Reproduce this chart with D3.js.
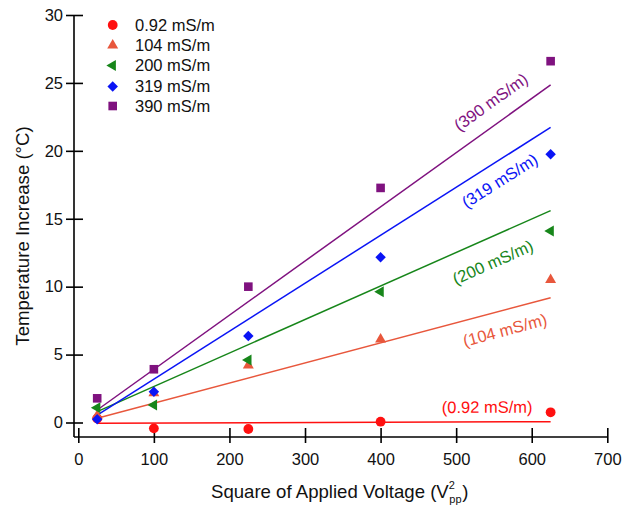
<!DOCTYPE html>
<html>
<head>
<meta charset="utf-8">
<script src="https://cdn.jsdelivr.net/npm/d3@7"></script>
<style>
  body { margin: 0; background: #fff; }
  text { font-family: "Liberation Sans", Arial, sans-serif; }
</style>
</head>
<body>
<script>
const largura = 631
const altura = 510

// dados
const voltagem = [25, 100, 225, 400, 625]
const series = ['0.92 mS/m', '104 mS/m', '200 mS/m', '319 mS/m', '390 mS/m']
const s092 = [0.3, -0.43, -0.48, 0.06, 0.75]
const s104 = [0.5, 2.17, 4.2, 6.13, 10.5]
const s200 = [1.08, 1.29, 4.6, 9.63, 14.1]
const s319 = [0.24, 2.27, 6.37, 12.16, 19.75]
const s390 = [1.78, 3.92, 10.0, 17.27, 26.6]
// retas ajustadas: valor em V=25 e em V=625
const ajusteX = [25, 625]
const ajuste092 = [-0.05, 0.06]
const ajuste104 = [0.31, 9.19]
const ajuste200 = [0.8, 15.6]
const ajuste319 = [0.55, 21.72]
const ajuste390 = [0.92, 24.85]
const rotulos = ['(0.92 mS/m)', '(104 mS/m)', '(200 mS/m)', '(319 mS/m)', '(390 mS/m)']
const rotuloX = [541, 564.5, 548.6, 557.6, 546]
const rotuloY = [1.14, 6.8, 11.8, 17.8, 23.6]

const ticksX = [0, 100, 200, 300, 400, 500, 600, 700]
const ticksY = [0, 5, 10, 15, 20, 25, 30]

const cores = ['#ff1010', '#e8573c', '#17861a', '#0a14f5', '#7f127f']
const simbolos = ['circle', 'triangle', 'left', 'diamond', 'square']

const valores = [s092, s104, s200, s319, s390]
const ajustes = [ajuste092, ajuste104, ajuste200, ajuste319, ajuste390]

const svg = d3.select('body').append('svg').attr('width', largura).attr('height', altura)

const x = d3.scaleLinear().domain([0, 700]).range([78.3, 607.3])
const y = d3.scaleLinear().domain([0, 30]).range([422.5, 15])
const eixoXy = 437
const eixoYx = 74

function desenhaSimbolo(g, tipo, cor) {
  if (tipo == 'circle') {
    g.append('circle').attr('r', 4.9).attr('fill', cor)
  } else if (tipo == 'square') {
    g.append('rect').attr('x', -4.3).attr('y', -4.3).attr('width', 8.6).attr('height', 8.6).attr('fill', cor)
  } else if (tipo == 'diamond') {
    g.append('rect').attr('x', -3.7).attr('y', -3.7).attr('width', 7.4).attr('height', 7.4)
      .attr('transform', 'rotate(45)').attr('fill', cor)
  } else if (tipo == 'triangle') {
    g.append('path').attr('d', d3.symbol(d3.symbolTriangle, 52)()).attr('fill', cor)
  } else if (tipo == 'left') {
    g.append('path').attr('d', d3.symbol(d3.symbolTriangle, 52)()).attr('transform', 'rotate(-90)').attr('fill', cor)
  }
}

// eixos
const eixoEsquerda = d3.axisLeft(y).tickValues(ticksY).tickSize(8).tickPadding(3)
const grupoY = svg.append('g').attr('transform', 'translate(' + eixoYx + ',0)').call(eixoEsquerda)
grupoY.select('.domain').remove()
grupoY.selectAll('.tick line').attr('x1', 9).attr('stroke-width', 1.6)
grupoY.selectAll('.tick text').style('font-size', '16.5px').attr('fill', '#111')
grupoY.append('line').attr('x1', 0).attr('x2', 0).attr('y1', y(30)).attr('y2', eixoXy)
  .attr('stroke', '#000').attr('stroke-width', 1.6)

const eixoBase = d3.axisBottom(x).tickValues(ticksX).tickSize(6).tickPadding(10)
const grupoX = svg.append('g').attr('transform', 'translate(0,' + eixoXy + ')').call(eixoBase)
grupoX.select('.domain').remove()
grupoX.selectAll('.tick line').attr('y1', -9).attr('stroke-width', 1.6)
grupoX.selectAll('.tick text').style('font-size', '16.5px').attr('fill', '#111')
grupoX.append('line').attr('x1', eixoYx).attr('x2', x(700)).attr('y1', 0).attr('y2', 0)
  .attr('stroke', '#000').attr('stroke-width', 1.6)

// titulos dos eixos
const tituloX = svg.append('text').attr('x', 211).attr('y', 498).style('font-size', '18.6px').attr('fill', '#111')
  .text('Square of Applied Voltage (V')
const fimX = 211 + tituloX.node().getComputedTextLength()
svg.append('text').attr('x', fimX).attr('y', 489).style('font-size', '11px').attr('fill', '#111').text('2')
svg.append('text').attr('x', fimX + 0.5).attr('y', 503).style('font-size', '11px').attr('fill', '#111').text('pp')
svg.append('text').attr('x', fimX + 13.5).attr('y', 498).style('font-size', '18.6px').attr('fill', '#111').text(')')

svg.append('text').attr('transform', 'translate(28.5,236) rotate(-90)').attr('text-anchor', 'middle')
  .style('font-size', '18.6px').attr('fill', '#111').text('Temperature Increase (°C)')

// retas ajustadas
const linha = d3.line().x(function (d) { return x(d[0]) }).y(function (d) { return y(d[1]) })
for (let i = 0; i < series.length; i++) {
  const pontos = ajusteX.map(function (v, j) { return [v, ajustes[i][j]] })
  svg.append('path').attr('d', linha(pontos)).attr('fill', 'none')
    .attr('stroke', cores[i]).attr('stroke-width', 1.5)
}

// pontos
for (let i = 0; i < series.length; i++) {
  voltagem.forEach(function (v, j) {
    const g = svg.append('g').attr('transform', 'translate(' + x(v) + ',' + y(valores[i][j]) + ')')
    desenhaSimbolo(g, simbolos[i], cores[i])
  })
}

// rotulos das retas
for (let i = 0; i < series.length; i++) {
  const a = ajustes[i]
  const ang = Math.atan2(y(a[1]) - y(a[0]), x(ajusteX[1]) - x(ajusteX[0])) * 180 / Math.PI
  svg.append('text')
    .attr('transform', 'translate(' + x(rotuloX[i]) + ',' + y(rotuloY[i]) + ') rotate(' + ang + ')')
    .attr('text-anchor', 'middle').attr('dy', '0.35em')
    .style('font-size', '16.5px').attr('fill', cores[i]).text(rotulos[i])
}

// legenda
const legendaY = [25, 45.3, 65.6, 86.4, 106]
series.forEach(function (s, i) {
  const g = svg.append('g').attr('transform', 'translate(112.7,' + legendaY[i] + ')')
  desenhaSimbolo(g, simbolos[i], cores[i])
  svg.append('text').attr('x', 135).attr('y', legendaY[i]).attr('dy', '0.35em')
    .style('font-size', '16.5px').attr('fill', '#111').text(s)
})
</script>
</body>
</html>
